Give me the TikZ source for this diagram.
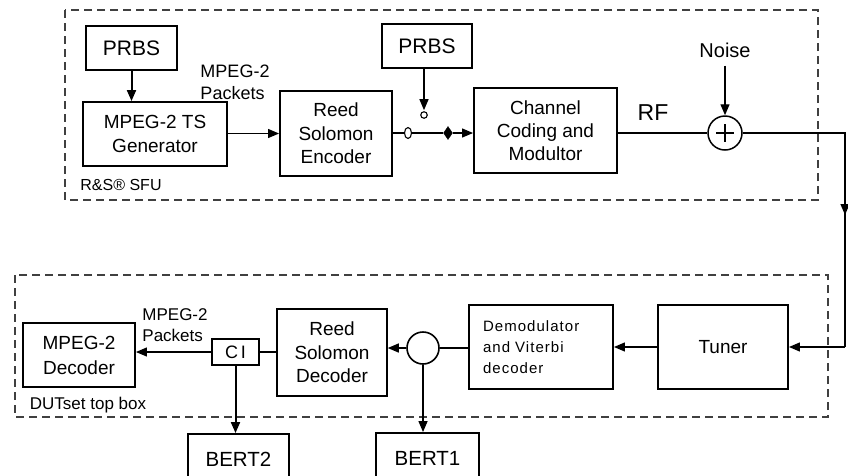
\documentclass[tikz,border=0pt]{standalone}
\usepackage{fontspec}
\setmainfont{Liberation Sans}
\usetikzlibrary{arrows.meta,shapes.geometric,calc}
\newcommand{\fsz}[2]{\fontsize{#1}{#2}\selectfont}
\begin{document}
\begin{tikzpicture}[x=1pt,y=-1pt,
  blk/.style={draw, line width=1.9pt, align=center, inner sep=0pt},
  con/.style={line width=1.3pt},
  arr/.style={con, -{Triangle[length=11pt,width=9pt]}},
  grp/.style={draw=black!75, dash pattern=on 8pt off 5pt, line width=1.6pt},
  lbl/.style={inner sep=0pt, align=left}
]
\useasboundingbox (0,0) rectangle (848,475);
\clip (0,0) rectangle (848,475);

% groups
\draw[grp] (65,10) rectangle (818,200);
\draw[grp] (15,275) rectangle (828,417);

% top row
\node[blk, minimum width=91pt, minimum height=44pt, font=\fsz{21}{24}] (PRBS1) at (131.5,48) {PRBS};
\node[blk, minimum width=144pt, minimum height=64pt, font=\fsz{19}{24}] (TSgen) at (155,134) {MPEG-2 TS\\Generator};
\node[lbl, font=\fsz{18}{22}] (pk1) at (235,82) {MPEG-2\\Packets};
\node[blk, minimum width=112pt, minimum height=85pt, font=\fsz{19}{23.5}] (RSenc) at (336,133.5) {Reed\\Solomon\\Encoder};
\node[blk, minimum width=90pt, minimum height=44pt, font=\fsz{21}{24}] (PRBS2) at (427,46) {PRBS};
\node[draw, ellipse, line width=1.1pt, minimum width=7pt, minimum height=11pt, inner sep=0pt, fill=white] (sw1) at (408,133) {};
\node[draw, diamond, fill=black, minimum width=9pt, minimum height=13pt, inner sep=0pt] (sw2) at (448,133) {};
\node[draw, circle, line width=1.1pt, minimum size=6.5pt, inner sep=0pt] (sw3) at (424,115) {};
\node[blk, minimum width=143pt, minimum height=85pt, font=\fsz{19}{23}] (CCM) at (545.5,130.5) {Channel\\Coding and\\Modultor};
\node[lbl, font=\fsz{23}{26}] (RF) at (653,113) {RF};
\node[lbl, font=\fsz{20}{24}] (Noise) at (725,50) {Noise};
\node[draw, circle, line width=1.5pt, minimum size=34pt, inner sep=0pt] (add) at (725,133) {};
\draw[line width=2.4pt] ($(add.center)+(-9,0)$) -- ($(add.center)+(9,0)$);
\draw[line width=2.4pt] ($(add.center)+(0,-9)$) -- ($(add.center)+(0,9)$);
\node[lbl, font=\fsz{16}{20}] (sfu) at (121,185) {R\&S® SFU};

\coordinate (c1) at (845,133);
\coordinate (c2) at (845,215);
\coordinate (c3) at (845,347);

% bottom row
\node[blk, minimum width=112pt, minimum height=64pt, font=\fsz{19}{25}] (Dec) at (79,355) {MPEG-2\\Decoder};
\node[lbl, font=\fsz{17}{21}] (pk2) at (175,325) {MPEG-2\\Packets};
\node[blk, line width=1.5pt, minimum width=47pt, minimum height=26pt, font=\fsz{18}{20}] (CI) at (235.5,352) {C\,I};
\node[blk, line width=1.5pt, minimum width=110pt, minimum height=87pt, font=\fsz{19}{23.5}] (RSdec) at (332,352.5) {Reed\\Solomon\\Decoder};
\node[draw, circle, line width=1.6pt, minimum size=32pt, inner sep=0pt] (circ) at (423,348) {};
\node[blk, minimum height=84pt, inner xsep=14pt, text width=116pt, align=left, font={\fsz{15}{21}\addfontfeature{LetterSpace=7}}] (Demod) at (541,347) {Demodulator\\and Viterbi\\decoder};
\node[blk, minimum width=130pt, minimum height=84pt, font=\fsz{19}{23}] (Tuner) at (723,347) {Tuner};
\node[lbl, font=\fsz{17}{20}] (dut) at (88,405) {DUTset top box};
\node[blk, minimum width=101pt, minimum height=50pt, font=\fsz{20.5}{24}] (BERT2) at (238.5,459) {BERT2};
\node[blk, minimum width=103pt, minimum height=50pt, font=\fsz{20.5}{24}] (BERT1) at (427.5,458) {BERT1};

% connectors top
\draw[arr, line width=2pt] (PRBS1.south) -- (PRBS1.south |- TSgen.north);
\draw[arr] (TSgen.east |- RSenc.west) -- (RSenc.west);
\draw[con] (RSenc.east |- sw1) -- (sw1.west);
\draw[line width=2.6pt] (sw1.east) -- (sw2.west);
\draw[arr] (sw2.east) -- (sw2 -| CCM.west);
\draw[arr] (PRBS2.south -| sw3) -- ($(sw3.north)+(0,-1)$);
\draw[con] (CCM.east |- add) -- (add.west);
\draw[arr] (Noise.south) ++(0,8) -- (add.north);
\draw[con] (add.east) -- (c1) -- (c3);
\draw[arr] (c1) -- (c2);
\draw[arr] (c3) -- (c3 -| Tuner.east);

% connectors bottom
\draw[arr] (Tuner.west) -- (Demod.east);
\draw[con] (Demod.west |- circ) -- (circ.east);
\draw[arr] (circ.west) -- (circ.west -| RSdec.east);
\draw[arr] (circ.south) -- (circ.south |- BERT1.north);
\draw[con] (RSdec.west |- CI) -- (CI.east);
\draw[arr] (CI.west) -- (CI.west -| Dec.east);
\draw[arr, line width=2pt] (CI.south) -- (CI.south |- BERT2.north);
\end{tikzpicture}
\end{document}
